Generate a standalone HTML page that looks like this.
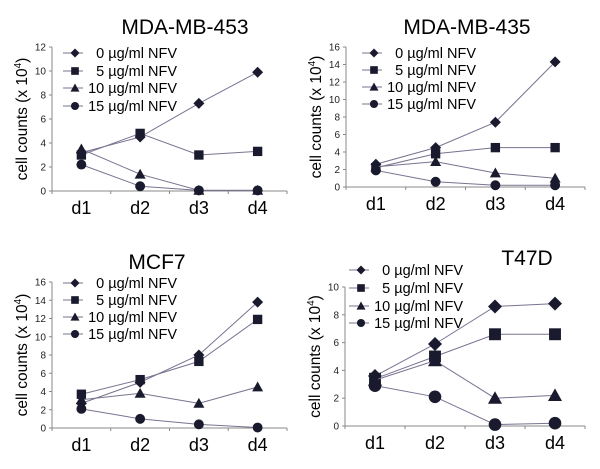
<!DOCTYPE html>
<html><head><meta charset="utf-8"><style>
body{margin:0;background:#fff;}
svg{display:block;font-family:"Liberation Sans",sans-serif;}
</style></head><body>
<svg id="c" width="600" height="469" viewBox="0 0 600 469"></svg>
<script>
const categories=["d1","d2","d3","d4"];
const seriesLabels=["0 µg/ml NFV","5 µg/ml NFV","10 µg/ml NFV","15 µg/ml NFV"];
const titles=["MDA-MB-453","MDA-MB-435","MCF7","T47D"];
const yMaxes=[12,16,16,10];
const p1s0=[3.2,4.5,7.3,9.9], p1s1=[3.0,4.8,3.0,3.3], p1s2=[3.5,1.4,0.05,0.05], p1s3=[2.2,0.4,0.05,0.05];
const p2s0=[2.6,4.5,7.4,14.3], p2s1=[2.2,3.8,4.5,4.5], p2s2=[2.3,2.9,1.6,1.0], p2s3=[1.9,0.6,0.2,0.2];
const p3s0=[2.7,5.0,8.0,13.8], p3s1=[3.7,5.3,7.3,11.9], p3s2=[3.1,3.8,2.7,4.5], p3s3=[2.1,1.0,0.4,0.05];
const p4s0=[3.6,5.9,8.6,8.8], p4s1=[3.4,5.0,6.6,6.6], p4s2=[3.3,4.7,2.0,2.2], p4s3=[2.9,2.1,0.1,0.2];
const panelData=[[p1s0,p1s1,p1s2,p1s3],[p2s0,p2s1,p2s2,p2s3],[p3s0,p3s1,p3s2,p3s3],[p4s0,p4s1,p4s2,p4s3]];

const layout=[
 {ax:52,ay0:191,ay1:47,ax1:287,tx:185,ty:34,lx:75,lt:177,ly:[53,71,88,106],ms:5.5},
 {ax:346,ay0:187,ay1:47,ax1:585,tx:467,ty:34,lx:374,lt:476,ly:[53,70,87,104],ms:5.5},
 {ax:52,ay0:428,ay1:282,ax1:287,tx:157,ty:269,lx:75,lt:177,ly:[283,300,317,334],ms:5.5},
 {ax:345,ay0:426,ay1:287,ax1:585,tx:527,ty:265,lx:361,lt:463,ly:[270,288,306,323],ms:7}
];
const NS="http://www.w3.org/2000/svg";
const svg=document.getElementById('c');
function mk(tag,attrs,parent){const e=document.createElementNS(NS,tag);for(const k in attrs)e.setAttribute(k,attrs[k]);(parent||svg).appendChild(e);return e;}
function marker(g,type,x,y,s){
 const f="#1a1a2e";
 if(type===0) return mk('polygon',{points:`${x},${y-s} ${x+s},${y} ${x},${y+s} ${x-s},${y}`,fill:f},g);
 if(type===1) return mk('rect',{x:x-s*0.85,y:y-s*0.85,width:s*1.7,height:s*1.7,fill:f},g);
 if(type===2) return mk('polygon',{points:`${x},${y-s} ${x+s},${y+s*0.8} ${x-s},${y+s*0.8}`,fill:f},g);
 return mk('circle',{cx:x,cy:y,r:s*0.9,fill:f},g);
}
layout.forEach((L,p)=>{
 const g=mk('g',{});
 
 
 const ymax=yMaxes[p];
 const yS=v=>L.ay0-(v/ymax)*(L.ay0-L.ay1);
 const bw=(L.ax1-L.ax)/categories.length;
 const xS=i=>L.ax+bw*(i+0.5);
 const t=mk('text',{x:L.tx,y:L.ty,'text-anchor':'middle','font-size':21,fill:'#000'},g);t.textContent=titles[p];
 
 const ya=mk('line',{x1:L.ax,y1:L.ay1,x2:L.ax,y2:L.ay0,stroke:'#888','stroke-width':1},g);
 
 const xa=mk('line',{x1:L.ax,y1:L.ay0,x2:L.ax1,y2:L.ay0,stroke:'#888','stroke-width':1},g);
 
 for(let v=0;v<=ymax;v+=2){
  const y=yS(v);
  mk('line',{x1:L.ax-3,y1:y,x2:L.ax,y2:y,stroke:'#888'},g);
  const tl=mk('text',{x:L.ax-6,y:y+3.5,'text-anchor':'end','font-size':10,fill:'#222'},g);tl.textContent=v;
  
 }
 for(let i=0;i<=categories.length;i++){const x=L.ax+bw*i;mk('line',{x1:x,y1:L.ay0,x2:x,y2:L.ay0+3,stroke:'#888'},g);}
 categories.forEach((c,i)=>{
  const tl=mk('text',{x:xS(i),y:L.ay0+23,'text-anchor':'middle','font-size':18,fill:'#000'},g);tl.textContent=c;
  
 });
 const ymid=(L.ay0+L.ay1)/2;
 const yt=mk('text',{x:0,y:0,'text-anchor':'middle','font-size':15.5,fill:'#000',transform:`translate(${L.ax-25},${ymid}) rotate(-90)`},g);
 yt.innerHTML='cell counts (x 10<tspan dy="-6" font-size="10">4</tspan><tspan dy="6">)</tspan>';
 
 panelData[p].forEach((vals,s)=>{
  const pts=vals.map((v,i)=>xS(i)+','+yS(v)).join(' ');
  const pl=mk('polyline',{points:pts,fill:'none',stroke:'#7a7290','stroke-width':1},g);
  
  vals.forEach((v,i)=>{
   const m=marker(g,s,xS(i),yS(v),L.ms);
   
  });
 });
 seriesLabels.forEach((lab,s)=>{
  const y=L.ly[s];
  mk('line',{x1:L.lx-12,y1:y,x2:L.lx+8,y2:y,stroke:'#7a7290'},g);
  const m=marker(g,s,L.lx,y,4.5);
  
  const tl=mk('text',{x:L.lt,y:y+5,'text-anchor':'end','font-size':14.5,fill:'#000'},g);tl.textContent=lab;
  
 });
});
</script>
</body></html>
